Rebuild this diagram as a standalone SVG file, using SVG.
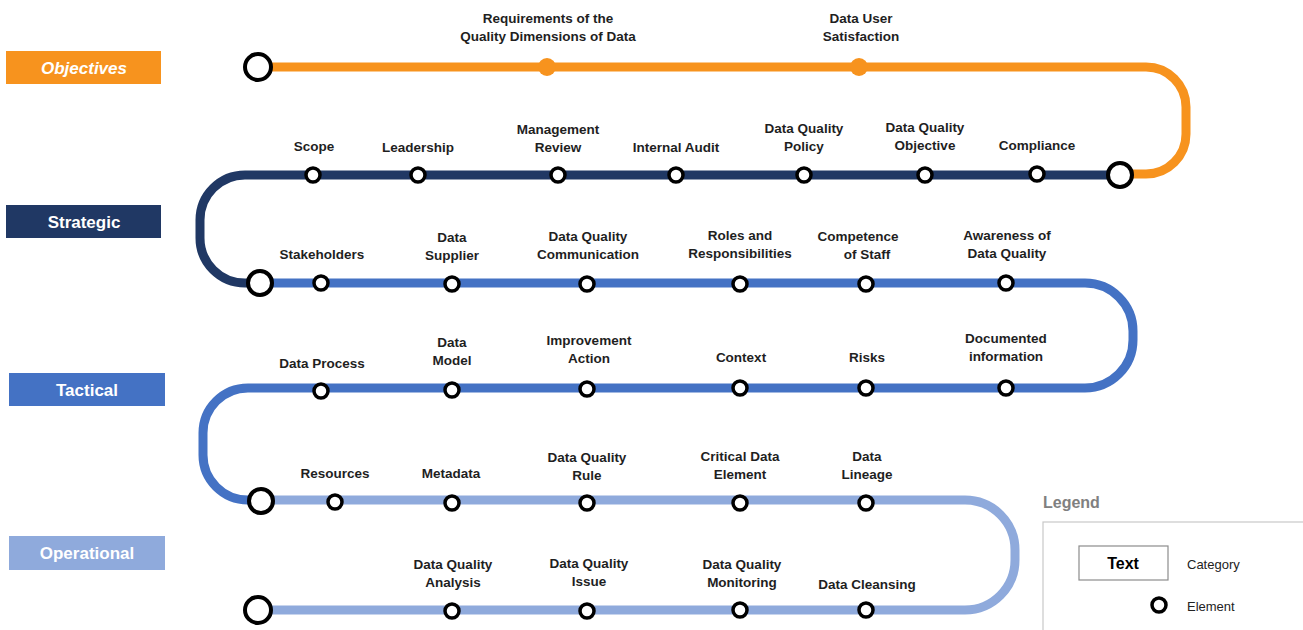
<svg xmlns="http://www.w3.org/2000/svg" width="1303" height="630" viewBox="0 0 1303 630">
<style>
.lbl{font-family:"Liberation Sans",Arial,sans-serif;font-size:13.5px;font-weight:bold;fill:#1f1f1f;text-anchor:middle}
.cat{font-family:"Liberation Sans",Arial,sans-serif;font-size:17px;font-weight:bold;fill:#ffffff;text-anchor:middle}
.el{fill:#ffffff;stroke:#000000;stroke-width:3.5}
.big{fill:#ffffff;stroke:#000000;stroke-width:4}
.line{fill:none;stroke-width:9;stroke-linejoin:round}
.leg{font-family:"Liberation Sans",Arial,sans-serif;font-size:13px;fill:#222}
</style>
<rect width="1303" height="630" fill="#ffffff"/>

<g id="connectors">
<path class="line" stroke="#F7931E" d="M258 67 H1146 A40 40 0 0 1 1186 107 V134 A40 40 0 0 1 1146 174 H1120" stroke-width="10"/>
<path class="line" stroke="#203864" d="M1120 175 H245 A45 45 0 0 0 200 220 V238 A45 45 0 0 0 245 283 H260"/>
<path class="line" stroke="#4472C4" d="M260 283 H1085 A48 48 0 0 1 1133 331 V340 A48 48 0 0 1 1085 388 H248 A45 45 0 0 0 203 433 V455 A45 45 0 0 0 248 500 H261"/>
<path class="line" stroke="#8FAADC" d="M261 500 H965 A50 50 0 0 1 1015 550 V560 A50 50 0 0 1 965 610 H258"/>
</g>

<g id="cat-objectives"><rect x="6" y="51" width="155" height="33" fill="#F7931E"/><text class="cat" x="84" y="73.5" font-style="italic">Objectives</text></g>
<g id="cat-strategic"><rect x="6" y="205" width="155" height="33" fill="#203864"/><text class="cat" x="84" y="227.5">Strategic</text></g>
<g id="cat-tactical"><rect x="9" y="373" width="156" height="33" fill="#4472C4"/><text class="cat" x="87" y="395.5">Tactical</text></g>
<g id="cat-operational"><rect x="9" y="536" width="156" height="34" fill="#8FAADC"/><text class="cat" x="87" y="559">Operational</text></g>

<!-- Objectives row -->
<g id="start-objectives"><circle class="big" cx="258" cy="67" r="13"/></g>
<g id="n-requirements"><circle cx="547" cy="67" r="9" fill="#F7931E"/><text class="lbl" x="548" y="23">Requirements of the</text><text class="lbl" x="548" y="41">Quality Dimensions of Data</text></g>
<g id="n-user-satisfaction"><circle cx="859" cy="67" r="9" fill="#F7931E"/><text class="lbl" x="861" y="23">Data User</text><text class="lbl" x="861" y="41">Satisfaction</text></g>

<!-- Strategic row -->
<g id="n-scope"><circle class="el" cx="313" cy="175" r="7"/><text class="lbl" x="314" y="151">Scope</text></g>
<g id="n-leadership"><circle class="el" cx="418" cy="175" r="7"/><text class="lbl" x="418" y="152">Leadership</text></g>
<g id="n-mgmt-review"><circle class="el" cx="558" cy="175" r="7"/><text class="lbl" x="558" y="134">Management</text><text class="lbl" x="558" y="152">Review</text></g>
<g id="n-internal-audit"><circle class="el" cx="676" cy="175" r="7"/><text class="lbl" x="676" y="152">Internal Audit</text></g>
<g id="n-dq-policy"><circle class="el" cx="804" cy="175" r="7"/><text class="lbl" x="804" y="133">Data Quality</text><text class="lbl" x="804" y="151">Policy</text></g>
<g id="n-dq-objective"><circle class="el" cx="925" cy="175" r="7"/><text class="lbl" x="925" y="132">Data Quality</text><text class="lbl" x="925" y="150">Objective</text></g>
<g id="n-compliance"><circle class="el" cx="1037" cy="174" r="7"/><text class="lbl" x="1037" y="150">Compliance</text></g>
<g id="turn-objectives-strategic"><circle class="big" cx="1120" cy="175" r="12"/></g>

<!-- Row 283 -->
<g id="turn-strategic-tactical"><circle class="big" cx="260" cy="283" r="12"/></g>
<g id="n-stakeholders"><circle class="el" cx="321" cy="283" r="7"/><text class="lbl" x="322" y="259">Stakeholders</text></g>
<g id="n-data-supplier"><circle class="el" cx="452" cy="284" r="7"/><text class="lbl" x="452" y="242">Data</text><text class="lbl" x="452" y="260">Supplier</text></g>
<g id="n-dq-communication"><circle class="el" cx="587" cy="284" r="7"/><text class="lbl" x="588" y="241">Data Quality</text><text class="lbl" x="588" y="259">Communication</text></g>
<g id="n-roles"><circle class="el" cx="740" cy="284" r="7"/><text class="lbl" x="740" y="240">Roles and</text><text class="lbl" x="740" y="258">Responsibilities</text></g>
<g id="n-competence"><circle class="el" cx="866" cy="284" r="7"/><text class="lbl" x="858" y="241">Competence</text><text class="lbl" x="867" y="259">of Staff</text></g>
<g id="n-awareness"><circle class="el" cx="1006" cy="283" r="7"/><text class="lbl" x="1007" y="240">Awareness of</text><text class="lbl" x="1007" y="258">Data Quality</text></g>

<!-- Row 388 -->
<g id="n-data-process"><circle class="el" cx="321" cy="391" r="7"/><text class="lbl" x="322" y="368">Data Process</text></g>
<g id="n-data-model"><circle class="el" cx="452" cy="390" r="7"/><text class="lbl" x="452" y="347">Data</text><text class="lbl" x="452" y="365">Model</text></g>
<g id="n-improvement"><circle class="el" cx="587" cy="389" r="7"/><text class="lbl" x="589" y="345">Improvement</text><text class="lbl" x="589" y="363">Action</text></g>
<g id="n-context"><circle class="el" cx="740" cy="388" r="7"/><text class="lbl" x="741" y="362">Context</text></g>
<g id="n-risks"><circle class="el" cx="866" cy="388" r="7"/><text class="lbl" x="867" y="362">Risks</text></g>
<g id="n-documented"><circle class="el" cx="1006" cy="388" r="7"/><text class="lbl" x="1006" y="343">Documented</text><text class="lbl" x="1006" y="361">information</text></g>

<!-- Row 500 -->
<g id="turn-tactical-operational"><circle class="big" cx="261" cy="501" r="12"/></g>
<g id="n-resources"><circle class="el" cx="335" cy="502" r="7"/><text class="lbl" x="335" y="478">Resources</text></g>
<g id="n-metadata"><circle class="el" cx="452" cy="503" r="7"/><text class="lbl" x="451" y="478">Metadata</text></g>
<g id="n-dq-rule"><circle class="el" cx="587" cy="503" r="7"/><text class="lbl" x="587" y="462">Data Quality</text><text class="lbl" x="587" y="480">Rule</text></g>
<g id="n-cde"><circle class="el" cx="740" cy="503" r="7"/><text class="lbl" x="740" y="461">Critical Data</text><text class="lbl" x="740" y="479">Element</text></g>
<g id="n-lineage"><circle class="el" cx="866" cy="503" r="7"/><text class="lbl" x="867" y="461">Data</text><text class="lbl" x="867" y="479">Lineage</text></g>

<!-- Row 610 -->
<g id="end-operational"><circle class="big" cx="258" cy="610" r="13"/></g>
<g id="n-dq-analysis"><circle class="el" cx="452" cy="611" r="7"/><text class="lbl" x="453" y="569">Data Quality</text><text class="lbl" x="453" y="587">Analysis</text></g>
<g id="n-dq-issue"><circle class="el" cx="587" cy="611" r="7"/><text class="lbl" x="589" y="568">Data Quality</text><text class="lbl" x="589" y="586">Issue</text></g>
<g id="n-dq-monitoring"><circle class="el" cx="740" cy="610" r="7"/><text class="lbl" x="742" y="569">Data Quality</text><text class="lbl" x="742" y="587">Monitoring</text></g>
<g id="n-cleansing"><circle class="el" cx="866" cy="610" r="7"/><text class="lbl" x="867" y="589">Data Cleansing</text></g>

<!-- Legend -->
<g id="legend">
<text x="1043" y="508" font-family="Liberation Sans, Arial, sans-serif" font-size="16" font-weight="bold" fill="#808080">Legend</text>
<rect x="1043" y="522" width="280" height="120" fill="#ffffff" stroke="#c8c8c8" stroke-width="1.2"/>
<rect x="1079" y="546" width="89" height="34" fill="#ffffff" stroke="#8c8c8c" stroke-width="1.2"/>
<text x="1123" y="569" font-family="Liberation Sans, Arial, sans-serif" font-size="16" font-weight="bold" fill="#000" text-anchor="middle">Text</text>
<text class="leg" x="1187" y="569">Category</text>
<circle class="el" cx="1159" cy="605" r="7"/>
<text class="leg" x="1187" y="611">Element</text>
</g>
</svg>
